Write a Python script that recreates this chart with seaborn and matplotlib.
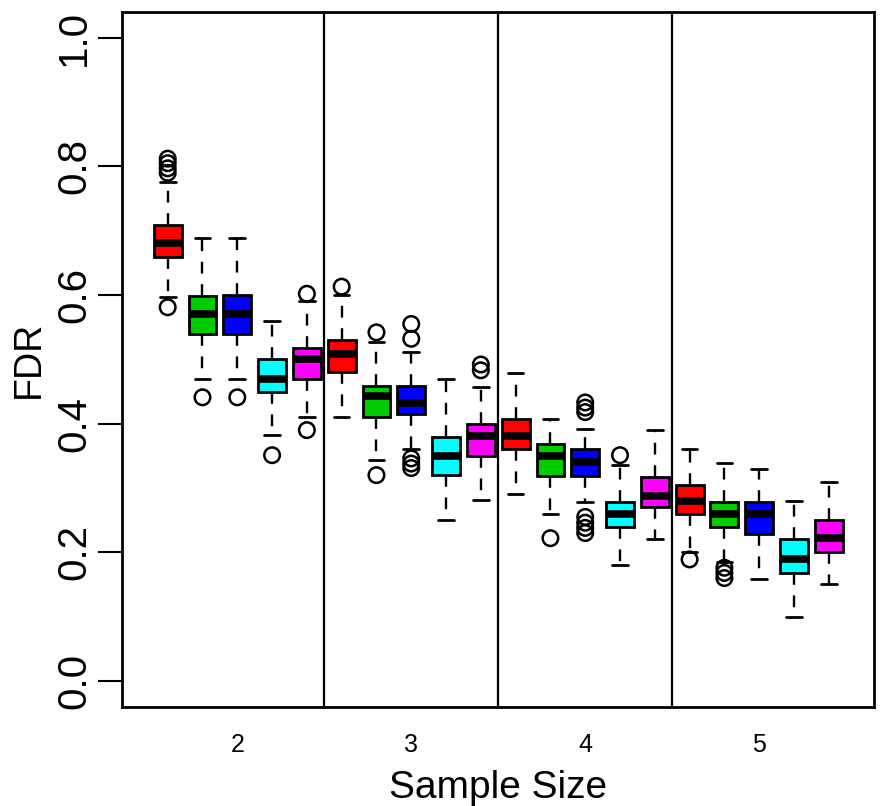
import matplotlib
matplotlib.use("Agg")
import matplotlib.pyplot as plt
import numpy as np
import pandas as pd
import seaborn as sns

# Group labels along the x axis and the fill colour used for each method
sample_sizes = ["2", "3", "4", "5"]
method_colors = ["#FF0000", "#00CD00", "#0000FF", "#00FFFF", "#FF00FF"]

# Box statistics, ordered by sample size (2..5) and method within each size
whisker_low = [0.597, 0.470, 0.470, 0.382, 0.410,
               0.410, 0.343, 0.360, 0.250, 0.281,
               0.290, 0.259, 0.278, 0.180, 0.220,
               0.200, 0.185, 0.159, 0.100, 0.151]
lower_quartile = [0.659, 0.540, 0.540, 0.449, 0.470,
                  0.480, 0.410, 0.415, 0.320, 0.349,
                  0.360, 0.319, 0.319, 0.239, 0.271,
                  0.259, 0.239, 0.228, 0.168, 0.200]
medians = [0.681, 0.571, 0.570, 0.470, 0.500,
           0.509, 0.443, 0.432, 0.349, 0.381,
           0.381, 0.349, 0.340, 0.259, 0.288,
           0.280, 0.259, 0.259, 0.190, 0.222]
upper_quartile = [0.709, 0.599, 0.600, 0.500, 0.518,
                  0.530, 0.459, 0.459, 0.379, 0.399,
                  0.408, 0.369, 0.360, 0.278, 0.317,
                  0.304, 0.278, 0.278, 0.220, 0.250]
whisker_high = [0.775, 0.689, 0.689, 0.559, 0.590,
                0.600, 0.527, 0.511, 0.470, 0.457,
                0.479, 0.408, 0.392, 0.335, 0.390,
                0.360, 0.339, 0.329, 0.280, 0.309]
outliers = [[0.581, 0.790, 0.797, 0.805, 0.812], [0.441], [0.441], [0.351], [0.390, 0.602],
            [0.613], [0.320, 0.542], [0.331, 0.338, 0.346, 0.532, 0.555], [], [0.483, 0.492],
            [], [0.222], [0.230, 0.238, 0.246, 0.255, 0.418, 0.425, 0.433], [0.351], [],
            [0.189], [0.160, 0.168, 0.176], [], [], []]

n_methods = len(method_colors)
n_boxes = len(medians)

# Long-form table: each box is described by its five summary values
rows = []
for i in range(n_boxes):
    for v in (whisker_low[i], lower_quartile[i], medians[i],
              upper_quartile[i], whisker_high[i]):
        rows.append({"box": i, "color": method_colors[i % n_methods], "FDR": v})
df = pd.DataFrame(rows)

out_rows = [{"box": i, "FDR": v} for i, vals in enumerate(outliers) for v in vals]
df_out = pd.DataFrame(out_rows)

sns.set_style("white")
plt.rcParams["font.family"] = ["Liberation Sans", "DejaVu Sans"]
plt.rcParams.update({
    "text.color": "black", "axes.labelcolor": "black",
    "xtick.color": "black", "ytick.color": "black",
})

fig = plt.figure(figsize=(8.83, 8.06), dpi=100)
ax = fig.add_axes([0.1387, 0.1232, 0.8511, 0.8619])

sns.boxplot(
    data=df, x="box", y="FDR", hue="color",
    palette={c: c for c in method_colors},
    dodge=False, legend=False, whis=(0, 100), width=0.8, saturation=1,
    linecolor="black", linewidth=2.0, showfliers=False,
    medianprops=dict(linewidth=5.5, solid_capstyle="butt"),
    whiskerprops=dict(linewidth=1.7, linestyle=(0, (5, 4.5))),
    capprops=dict(linewidth=2.0),
    capwidths=0.45,
    ax=ax,
)

sns.scatterplot(
    data=df_out, x="box", y="FDR", marker="o", s=125,
    facecolor="none", edgecolor="black", linewidth=1.8,
    legend=False, zorder=4, ax=ax,
)

# Separators between sample-size groups
for b in range(1, len(sample_sizes)):
    ax.axvline(b * n_methods - 0.5, color="black", linewidth=1.6, zorder=1)

ax.set_xlim(-1.3, n_boxes + 0.3)
ax.set_ylim(-0.04, 1.04)

centers = [g * n_methods + (n_methods - 1) / 2 for g in range(len(sample_sizes))]
ax.set_xticks(centers, sample_sizes)
yt = np.arange(0, 1.01, 0.2)
ax.set_yticks(yt, [f"{v:.1f}" for v in yt])

ax.tick_params(axis="x", length=0, pad=19, labelsize=18)
ax.tick_params(axis="y", length=17, width=1.5, pad=4, labelsize=29,
               direction="out", left=True, labelrotation=90)
for lab in ax.get_yticklabels():
    lab.set_va("center")

ax.set_xlabel("Sample Size", fontsize=28, labelpad=9)
ax.set_ylabel("FDR", fontsize=27, labelpad=6)

for sp in ax.spines.values():
    sp.set_visible(True)
    sp.set_color("black")
    sp.set_linewidth(2)

fig.savefig("out.png", dpi=100)
